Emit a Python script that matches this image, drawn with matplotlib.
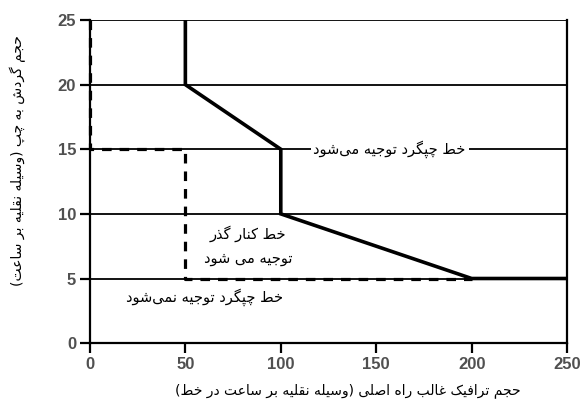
import matplotlib
matplotlib.use("Agg")
import matplotlib.pyplot as plt

# persian letters -> (isolated, final, initial, medial); 2-tuple = joins on the right only
FORMS = {
    "\u0627": (0xFE8D, 0xFE8E), "\u0628": (0xFE8F, 0xFE90, 0xFE91, 0xFE92),
    "\u067E": (0xFB56, 0xFB57, 0xFB58, 0xFB59), "\u062A": (0xFE95, 0xFE96, 0xFE97, 0xFE98),
    "\u062C": (0xFE9D, 0xFE9E, 0xFE9F, 0xFEA0), "\u0686": (0xFB7A, 0xFB7B, 0xFB7C, 0xFB7D),
    "\u062D": (0xFEA1, 0xFEA2, 0xFEA3, 0xFEA4), "\u062E": (0xFEA5, 0xFEA6, 0xFEA7, 0xFEA8),
    "\u062F": (0xFEA9, 0xFEAA), "\u0630": (0xFEAB, 0xFEAC),
    "\u0631": (0xFEAD, 0xFEAE), "\u0632": (0xFEAF, 0xFEB0),
    "\u0633": (0xFEB1, 0xFEB2, 0xFEB3, 0xFEB4), "\u0634": (0xFEB5, 0xFEB6, 0xFEB7, 0xFEB8),
    "\u0635": (0xFEB9, 0xFEBA, 0xFEBB, 0xFEBC), "\u0637": (0xFEC1, 0xFEC2, 0xFEC3, 0xFEC4),
    "\u0639": (0xFEC9, 0xFECA, 0xFECB, 0xFECC), "\u063A": (0xFECD, 0xFECE, 0xFECF, 0xFED0),
    "\u0641": (0xFED1, 0xFED2, 0xFED3, 0xFED4), "\u0642": (0xFED5, 0xFED6, 0xFED7, 0xFED8),
    "\u06A9": (0xFB8E, 0xFB8F, 0xFB90, 0xFB91), "\u06AF": (0xFB92, 0xFB93, 0xFB94, 0xFB95),
    "\u0644": (0xFEDD, 0xFEDE, 0xFEDF, 0xFEE0), "\u0645": (0xFEE1, 0xFEE2, 0xFEE3, 0xFEE4),
    "\u0646": (0xFEE5, 0xFEE6, 0xFEE7, 0xFEE8), "\u0647": (0xFEE9, 0xFEEA, 0xFEEB, 0xFEEC),
    "\u0648": (0xFEED, 0xFEEE), "\u06CC": (0xFBFC, 0xFBFD, 0xFBFE, 0xFBFF),
}
MIRROR = {"(": ")", ")": "("}


def shape_line(s):
    out = []
    for i, ch in enumerate(s):
        if ch not in FORMS:
            if ch != "\u200c":
                out.append(MIRROR.get(ch, ch))
            continue
        prev = s[i - 1] if i > 0 else ""
        nxt = s[i + 1] if i + 1 < len(s) else ""
        join_prev = prev in FORMS and len(FORMS[prev]) == 4
        join_next = len(FORMS[ch]) == 4 and nxt in FORMS
        f = FORMS[ch]
        if join_prev and join_next:
            c = f[3]
        elif join_prev:
            c = f[1]
        elif join_next:
            c = f[2]
        else:
            c = f[0]
        out.append(chr(c))
    return "".join(reversed(out))


def fa(s):
    return "\n".join(shape_line(l) for l in s.split("\n"))


# data
traffic = [50, 50, 100, 100, 200, 250]
left_turn = [25, 20, 15, 10, 5, 5]
dash_x = [0, 0, 50, 50, 200]
dash_y = [25, 15, 15, 5, 5]

x_ticks = [0, 50, 100, 150, 200, 250]
y_ticks = [0, 5, 10, 15, 20, 25]

x_label = "حجم ترافیک غالب راه اصلی (وسیله نقلیه بر ساعت در خط)"
y_label = "حجم گردش به چپ (وسیله نقلیه بر ساعت)"
lbl_left = "خط چپگرد توجیه می\u200cشود"
lbl_bypass = "خط کنار گذر\nتوجیه می شود"
lbl_none = "خط چپگرد توجیه نمی\u200cشود"

fig = plt.figure(figsize=(5.84, 4.08), dpi=100)
ax = fig.add_axes([0.154, 0.159, 0.817, 0.792])

for v in y_ticks[1:]:
    ax.axhline(v, color="black", lw=1.3, zorder=1)

ax.plot(dash_x, dash_y, color="black", lw=2.3, ls=(0, (3, 2.5)), zorder=3, clip_on=False)
ax.plot(traffic, left_turn, color="black", lw=2.6, zorder=4, solid_joinstyle="miter")

ax.set_xlim(0, 250)
ax.set_ylim(0, 25)
ax.set_xticks(x_ticks)
ax.set_yticks(y_ticks)
for sp in ax.spines.values():
    sp.set_linewidth(1.6)
ax.spines["top"].set_visible(False)
ax.tick_params(direction="out", length=7, width=1.6, labelsize=12,
               labelcolor="#505050", pad=3)
for t in ax.get_xticklabels() + ax.get_yticklabels():
    t.set_family("Liberation Sans")
    t.set_weight("bold")

pfont = dict(family="DejaVu Sans", fontsize=10.5, color="black")
ax.text(157, 15, fa(lbl_left), ha="center", va="center", zorder=5,
        bbox=dict(facecolor="white", edgecolor="none", pad=2), **pfont)
ax.text(83, 7.55, fa(lbl_bypass), ha="center", va="center", linespacing=1.75, **pfont)
ax.text(60, 3.55, fa(lbl_none), ha="center", va="center", **pfont)

lfont = dict(family="DejaVu Sans", fontsize=10, color="black")
ax.set_xlabel(fa(x_label), **lfont)
ax.xaxis.set_label_coords(0.54, -0.125)
ax.set_ylabel(fa(y_label), **lfont)
ax.yaxis.set_label_coords(-0.135, 0.565)

fig.savefig("out.png", dpi=100)
